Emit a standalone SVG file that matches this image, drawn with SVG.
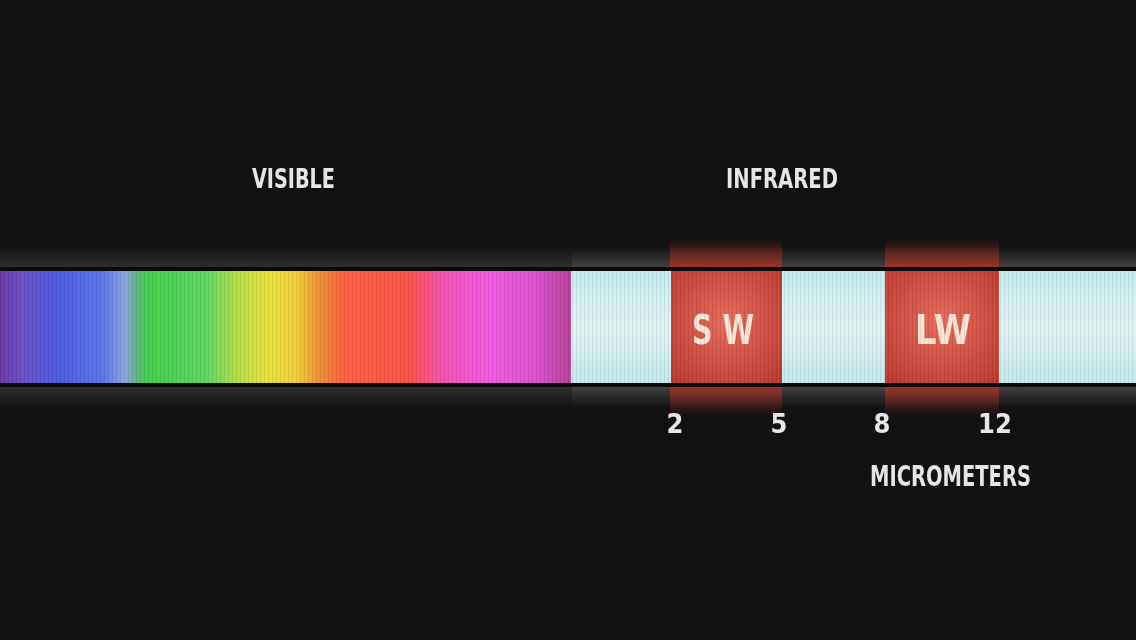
<svg xmlns="http://www.w3.org/2000/svg" width="1136" height="640" viewBox="0 0 1136 640">
<style>
.lbl{font-family:"DejaVu Sans Condensed","DejaVu Sans",sans-serif;font-weight:bold;fill:#e6e6e6;}
.band{font-family:"DejaVu Sans Condensed","DejaVu Sans",sans-serif;font-weight:bold;fill:#f6e6d6;}
</style>
<defs>
<linearGradient id="vis" x1="0" y1="0" x2="570" y2="0" gradientUnits="userSpaceOnUse">
<stop offset="0" stop-color="#6a3aa8"/>
<stop offset="0.04" stop-color="#6a50c8"/>
<stop offset="0.1" stop-color="#4a5ae6"/>
<stop offset="0.18" stop-color="#5a74ee"/>
<stop offset="0.22" stop-color="#8aa6e0"/>
<stop offset="0.235" stop-color="#6ab090"/>
<stop offset="0.26" stop-color="#40d048"/>
<stop offset="0.36" stop-color="#58d860"/>
<stop offset="0.42" stop-color="#b8e040"/>
<stop offset="0.47" stop-color="#ece038"/>
<stop offset="0.52" stop-color="#f0d038"/>
<stop offset="0.56" stop-color="#f09030"/>
<stop offset="0.6" stop-color="#ff6040"/>
<stop offset="0.72" stop-color="#ff5048"/>
<stop offset="0.78" stop-color="#f850b8"/>
<stop offset="0.86" stop-color="#f258e4"/>
<stop offset="0.94" stop-color="#e050d0"/>
<stop offset="1" stop-color="#b84098"/>
</linearGradient>
<linearGradient id="ir" x1="0" y1="0" x2="0" y2="1">
<stop offset="0" stop-color="#c4ecf0"/>
<stop offset="0.5" stop-color="#e2f4f4"/>
<stop offset="1" stop-color="#c0e8ec"/>
</linearGradient>
<radialGradient id="red" cx="0.5" cy="0.45" r="0.7">
<stop offset="0" stop-color="#ea6a5a"/>
<stop offset="1" stop-color="#c0382c"/>
</radialGradient>
<linearGradient id="glowUp" x1="0" y1="0" x2="0" y2="1">
<stop offset="0" stop-color="#808080" stop-opacity="0"/>
<stop offset="1" stop-color="#808080" stop-opacity="0.45"/>
</linearGradient>
<linearGradient id="glowDn" x1="0" y1="0" x2="0" y2="1">
<stop offset="0" stop-color="#808080" stop-opacity="0.45"/>
<stop offset="1" stop-color="#808080" stop-opacity="0"/>
</linearGradient>
<linearGradient id="redUp" x1="0" y1="0" x2="0" y2="1">
<stop offset="0" stop-color="#a02818" stop-opacity="0"/>
<stop offset="1" stop-color="#b03020" stop-opacity="0.85"/>
</linearGradient>
<linearGradient id="redDn" x1="0" y1="0" x2="0" y2="1">
<stop offset="0" stop-color="#b03020" stop-opacity="0.8"/>
<stop offset="1" stop-color="#a02818" stop-opacity="0"/>
</linearGradient>
<pattern id="stripes" width="4" height="10" patternUnits="userSpaceOnUse">
<rect x="0" y="0" width="1" height="10" fill="#000" opacity="0.08"/>
<rect x="2" y="0" width="1" height="10" fill="#fff" opacity="0.05"/>
</pattern>
<filter id="soft" x="-5%" y="-20%" width="110%" height="140%"><feGaussianBlur stdDeviation="0.6"/></filter>
</defs>
<rect width="1136" height="640" fill="#111112"/>
<g id="glow">
<rect x="0" y="246" width="572" height="22" fill="url(#glowUp)" opacity="0.6"/>
<rect x="572" y="246" width="564" height="22" fill="url(#glowUp)"/>
<rect x="0" y="386" width="572" height="22" fill="url(#glowDn)" opacity="0.6"/>
<rect x="572" y="386" width="564" height="22" fill="url(#glowDn)"/>
<rect x="670" y="238" width="112" height="30" fill="url(#redUp)"/>
<rect x="885" y="238" width="114" height="30" fill="url(#redUp)"/>
<rect x="670" y="386" width="112" height="30" fill="url(#redDn)"/>
<rect x="885" y="386" width="114" height="30" fill="url(#redDn)"/>
</g>
<g id="visible-band">
<rect x="0" y="271" width="571" height="113" fill="url(#vis)"/>
</g>
<g id="infrared-band">
<rect x="571" y="271" width="565" height="113" fill="url(#ir)"/>
</g>
<g id="sw">
<rect x="671" y="271" width="111" height="113" fill="url(#red)"/>
<text class="band" x="692" y="344" font-size="40" textLength="62" lengthAdjust="spacingAndGlyphs" filter="url(#soft)">S W</text>
</g>
<g id="lw">
<rect x="885" y="271" width="114" height="113" fill="url(#red)"/>
<text class="band" x="915" y="344" font-size="40" textLength="56" lengthAdjust="spacingAndGlyphs" filter="url(#soft)">LW</text>
</g>
<rect x="0" y="271" width="1136" height="113" fill="url(#stripes)"/>
<g id="edges">
<rect x="0" y="267" width="1136" height="4" fill="#0a0a0c"/>
<rect x="0" y="383" width="1136" height="4" fill="#0a0a0c"/>
</g>
<g id="labels" filter="url(#soft)">
<text class="lbl" x="252" y="188" font-size="27" textLength="83" lengthAdjust="spacingAndGlyphs">VISIBLE</text>
<text class="lbl" x="726" y="188" font-size="27" textLength="112" lengthAdjust="spacingAndGlyphs">INFRARED</text>
<text class="lbl" x="675" y="433" font-size="27" text-anchor="middle">2</text>
<text class="lbl" x="779" y="433" font-size="27" text-anchor="middle">5</text>
<text class="lbl" x="882" y="433" font-size="27" text-anchor="middle">8</text>
<text class="lbl" x="995" y="433" font-size="27" text-anchor="middle">12</text>
<text class="lbl" x="870" y="486" font-size="28" textLength="161" lengthAdjust="spacingAndGlyphs">MICROMETERS</text>
</g>
</svg>
